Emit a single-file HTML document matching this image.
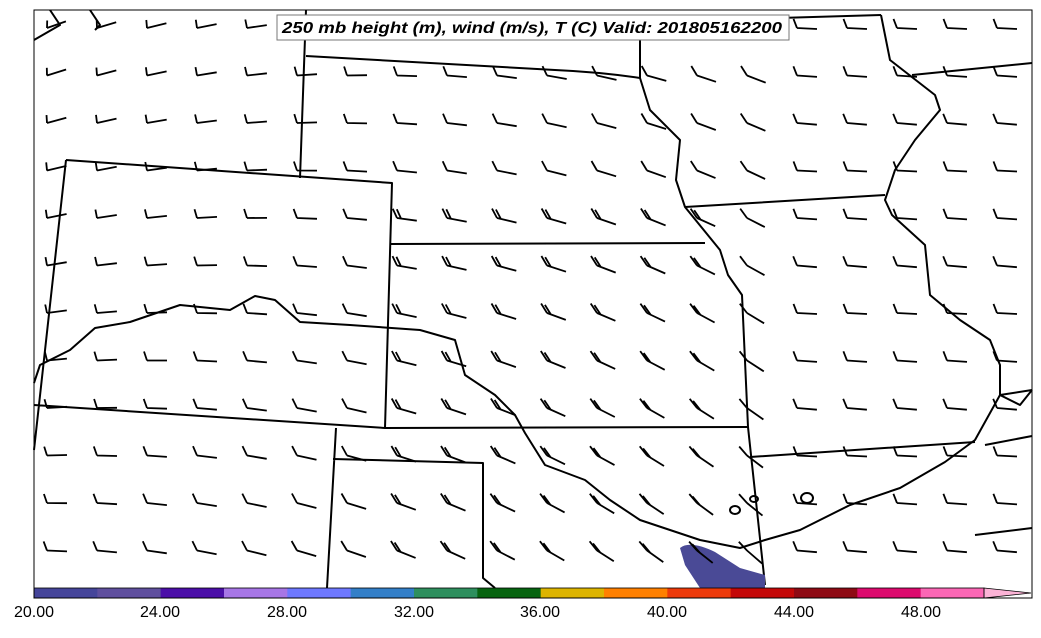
<!DOCTYPE html>
<html><head><meta charset="utf-8"><style>
body{margin:0;background:#fff;width:1041px;height:633px;overflow:hidden;font-family:"Liberation Sans",sans-serif}
</style></head><body>
<svg id="s" width="1041" height="633" xmlns="http://www.w3.org/2000/svg">
<g fill="none" stroke="#000" stroke-width="2" stroke-linejoin="round">
<path d="M66,160 L392,183 L385,428 L34,405 M66,160 L34,450"/>
<path d="M306,10 L300,178 M306,56 L555,70 Q600,72 640,78"/>
<path d="M390,244 L705,243 M385,428 L748,427 M750,457 L975,442"/>
<path d="M640,78 L650,110 L680,140 L676,180 L685,207 L720,250 L728,275 L742,295 L748,427 L765,585"/>
<path d="M685,207 L885,195 M881,15 L640,22 L640,78 M912,75 L1032,63"/>
<path d="M881,15 L890,60 L935,95 L940,110 L915,140 L895,170 L885,200 L892,215 L925,245 L930,295 L960,320 L990,340 L1000,365 L1000,395 L1032,390"/>
<path d="M336,428 L327,588 M333,459 L483,463 L483,578 L495,588"/>
<path d="M34,383 L40,365 L70,350 L95,328 L130,322 L180,305 L230,310 L255,296 L275,300 L300,322 L350,325 L420,330 L455,340 L465,375 L495,395 L515,415 L525,433 L545,465 L585,480 L610,500 L640,520 L700,540 L740,548 L765,540 L800,530 L850,505 L900,488 L945,462 L975,440 L1000,395 L1020,405 L1032,390"/>
<path d="M1032,436 L985,445 M1032,528 L975,535 M34,40 L60,25 L50,10 M90,10 L100,25 L95,30"/>
<ellipse cx="735" cy="510" rx="5" ry="4"/><ellipse cx="754" cy="499" rx="4" ry="3"/><ellipse cx="807" cy="498" rx="6" ry="5"/>
</g>
<path d="M680,548 Q690,540 715,552 L740,568 L765,575 L765,588 L700,588 L685,565 Z" fill="#4a4a96"/>
<g id="b" stroke="#000" stroke-width="1.8" fill="none"></g>
<g id="cb"></g>
<rect x="34" y="10" width="998" height="588" fill="none" stroke="#000" stroke-width="1"/>
<rect x="277" y="15" width="512" height="25" fill="#fff" stroke="#777" stroke-width="1"/>
<text x="282" y="33" font-size="16" font-weight="bold" font-style="italic" textLength="500" lengthAdjust="spacingAndGlyphs" font-family="Liberation Sans, sans-serif">250 mb height (m), wind (m/s), T (C) Valid: 201805162200</text>
<g font-size="16" text-anchor="middle" fill="#000">
<text x="34" y="617">20.00</text><text x="160" y="617">24.00</text><text x="287" y="617">28.00</text><text x="414" y="617">32.00</text><text x="540" y="617">36.00</text><text x="667" y="617">40.00</text><text x="794" y="617">44.00</text><text x="921" y="617">48.00</text>
</g>
</svg>
<script>
var cols=["#45459a","#5f4f9e","#4b0ea8","#a776e6","#6e78ff","#337fc8","#2e8f5e","#076410","#dcb400","#ff8000","#ed3a0a","#c40808","#8e0a14","#dd0a6e","#fb67b5"];
var cb=document.getElementById("cb"),w=950/15,h="";
cols.forEach(function(c,i){h+='<rect x="'+(34+i*w)+'" y="588" width="'+(w+0.5)+'" height="10" fill="'+c+'"/>';});
h+='<polygon points="984,588 1031,593 984,598" fill="#fbb3d6" stroke="#000" stroke-width="0.8"/>';
h+='<rect x="34" y="588" width="950" height="10" fill="none" stroke="#000" stroke-width="0.8"/>';
cb.innerHTML=h;
var b=document.getElementById("b"),s="";
for(var r=0;r<12;r++){var y=28+r*47.5;
for(var c=0;c<20;c++){var x=47+c*50;
if(x>1010)continue;
var ang=(-22+ (x/1000)*55 + r*2)*Math.PI/180;
if(x>760) ang=(3+ (r%3))*Math.PI/180;
var L=20,dx=Math.cos(ang),dy=Math.sin(ang);
var x2=x+L*dx,y2=y+L*dy;
s+='<path d="M'+x+','+y+' L'+x2.toFixed(1)+','+y2.toFixed(1);
var nt=(x>380&&x<700&&r>3)?2:1;
for(var t=0;t<nt;t++){var bx=x+t*4*dx,by=y+t*4*dy;
s+=' M'+bx.toFixed(1)+','+by.toFixed(1)+' l'+(-9*Math.sin(-ang)*-1-3*dx).toFixed(1)+','+(-9*Math.cos(ang)-3*dy).toFixed(1);}
s+='"/>';}}
b.innerHTML=s;
</script>
</body></html>
